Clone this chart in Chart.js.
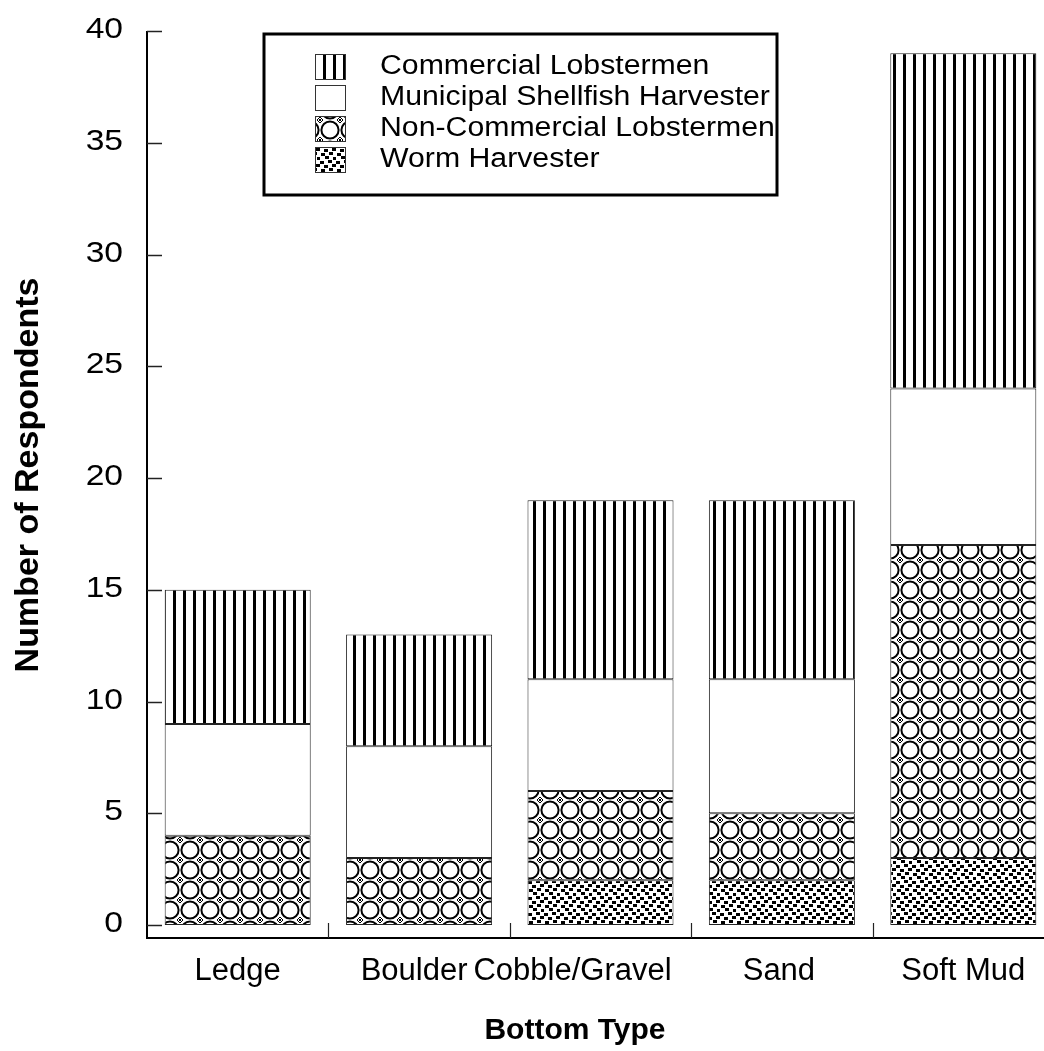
<!DOCTYPE html>
<html><head><meta charset="utf-8">
<script src="https://cdn.jsdelivr.net/npm/chart.js@4/dist/chart.umd.min.js"></script>
<style>html,body{margin:0;padding:0;background:#fff;overflow:hidden;}
#wrap{width:1060px;height:1051px;position:relative;}
</style></head><body>
<div id="wrap"><canvas id="c" width="1060" height="1051"></canvas></div>
<script>
// ---- data ----
const categories = ['Ledge', 'Boulder', 'Cobble/Gravel', 'Sand', 'Soft Mud'];
const wormHarvester = [0, 0, 2, 2, 3];
const nonCommercialLobstermen = [4, 3, 4, 3, 14];
const municipalShellfishHarvester = [5, 5, 5, 6, 7];
const commercialLobstermen = [6, 5, 8, 8, 15];
const yTickValues = [0, 5, 10, 15, 20, 25, 30, 35, 40];
const seriesNames = ['Worm Harvester', 'Non-Commercial Lobstermen', 'Municipal Shellfish Harvester', 'Commercial Lobstermen'];
const xTitle = 'Bottom Type';
const yTitle = 'Number of Respondents';

// ---- style ----
const FONT = '"Liberation Sans", Arial, sans-serif';
const labelShiftPx = [0, -5, -28, -3, 0];
const mainCtx = document.getElementById('c').getContext('2d');
function makePattern(w, h, draw) {
  const c = document.createElement('canvas');
  c.width = w; c.height = h;
  const g = c.getContext('2d');
  g.fillStyle = '#fff'; g.fillRect(0, 0, w, h);
  g.fillStyle = '#000'; g.strokeStyle = '#000';
  draw(g);
  return mainCtx.createPattern(c, 'repeat');
}
const stripes = makePattern(10, 10, g => { g.fillRect(3, 0, 3, 10); });
const circles = makePattern(20, 20, g => {
  g.lineWidth = 2;
  g.beginPath(); g.arc(10, 10, 8.6, 0, Math.PI * 2); g.stroke();
  g.lineWidth = 1;
  [[0,0],[20,0],[0,20],[20,20]].forEach(([x,y]) => {
    g.beginPath();
    g.moveTo(x - 3, y); g.lineTo(x, y - 3); g.lineTo(x + 3, y); g.lineTo(x, y + 3); g.closePath();
    g.fillStyle = '#fff'; g.fill(); g.stroke();
    g.fillStyle = '#000'; g.fillRect(x - 1, y - 1, 2, 2);
  });
});
const dotsPos = [[0,1],[8,0],[4,5],[12,4],[1,9],[9,8],[5,12],[13,13]];
const dots = makePattern(16, 16, g => { dotsPos.forEach(([x,y]) => g.fillRect(x, y, 4, 3)); });
const white = '#ffffff';

const seriesData = [wormHarvester, nonCommercialLobstermen, municipalShellfishHarvester, commercialLobstermen];
const fills = [dots, circles, white, stripes];

const datasets = seriesNames.map((n, i) => ({
  label: n,
  data: seriesData[i],
  backgroundColor: fills[i],
  borderColor: '#222',
  borderWidth: 1,
  borderSkipped: false,
  barPercentage: 0.805,
  categoryPercentage: 1.0
}));

function sText(ctx, text, x, y, align, sx) {
  ctx.save();
  ctx.translate(x, y);
  ctx.scale(sx, 1);
  ctx.textAlign = align;
  ctx.fillText(text, 0, 0);
  ctx.restore();
}

const decor = {
  id: 'decor',
  afterDatasetsDraw(chart) {
    const ctx = chart.ctx;
    const xs = chart.scales.x, ys = chart.scales.y;
    const a = chart.chartArea;
    ctx.save();
    // axes lines
    ctx.strokeStyle = '#000';
    ctx.lineWidth = 2;
    ctx.beginPath();
    ctx.moveTo(a.left, ys.getPixelForValue(40));
    ctx.lineTo(a.left, a.bottom);
    ctx.lineTo(a.right, a.bottom);
    ctx.stroke();
    // y ticks (inward)
    ctx.lineWidth = 1.5;
    ctx.strokeStyle = '#222';
    yTickValues.forEach(v => {
      const y = Math.round(ys.getPixelForValue(v)) + 0.5;
      ctx.beginPath(); ctx.moveTo(a.left, y); ctx.lineTo(a.left + 15, y); ctx.stroke();
    });
    // x category separators
    ctx.lineWidth = 1.2;
    for (let i = 1; i < categories.length; i++) {
      const x = Math.round((xs.getPixelForValue(i - 1) + xs.getPixelForValue(i)) / 2) + 0.5;
      ctx.beginPath(); ctx.moveTo(x, a.bottom - 15); ctx.lineTo(x, a.bottom); ctx.stroke();
    }
    // y tick labels
    ctx.fillStyle = '#000';
    ctx.font = '30px ' + FONT;
    ctx.textBaseline = 'alphabetic';
    yTickValues.forEach(v => {
      sText(ctx, String(v), 123, ys.getPixelForValue(v) + 7, 'right', 1.12);
    });
    // x labels
    ctx.font = '31px ' + FONT;
    categories.forEach((c, i) => {
      sText(ctx, c, xs.getPixelForValue(i) + labelShiftPx[i], 980, 'center', 1.0);
    });
    // x title
    ctx.font = 'bold 30px ' + FONT;
    sText(ctx, xTitle, 575, 1039, 'center', 1.0);
    // y title
    ctx.save();
    ctx.translate(29, 475);
    ctx.rotate(-Math.PI / 2);
    ctx.font = 'bold 34px ' + FONT;
    ctx.textAlign = 'center';
    ctx.textBaseline = 'middle';
    ctx.fillText(yTitle, 0, 0);
    ctx.restore();
    // legend
    ctx.lineWidth = 3;
    ctx.strokeStyle = '#000';
    ctx.strokeRect(264, 34, 513, 161);
    const ds = chart.data.datasets.slice().reverse();
    ctx.font = '27px ' + FONT;
    ds.forEach((d, i) => {
      const cy = 67 + i * 31;
      ctx.fillStyle = d.backgroundColor;
      ctx.fillRect(315, cy - 13, 31, 26);
      ctx.lineWidth = 1;
      ctx.strokeStyle = '#333';
      ctx.strokeRect(315.5, cy - 12.5, 30, 25);
      ctx.fillStyle = '#000';
      ctx.textBaseline = 'middle';
      sText(ctx, d.label, 380, cy, 'left', 1.12);
    });
    ctx.restore();
  }
};

new Chart(document.getElementById('c'), {
  type: 'bar',
  data: { labels: categories, datasets },
  options: {
    responsive: false,
    animation: false,
    devicePixelRatio: 1,
    layout: { padding: { left: 147, top: 31, right: 6, bottom: 113 } },
    plugins: { legend: { display: false }, tooltip: { enabled: false } },
    scales: {
      x: { type: 'category', stacked: true, display: false, offset: true },
      y: { stacked: true, display: false, min: -0.58, max: 40 }
    }
  },
  plugins: [decor]
});
</script>
</body></html>
